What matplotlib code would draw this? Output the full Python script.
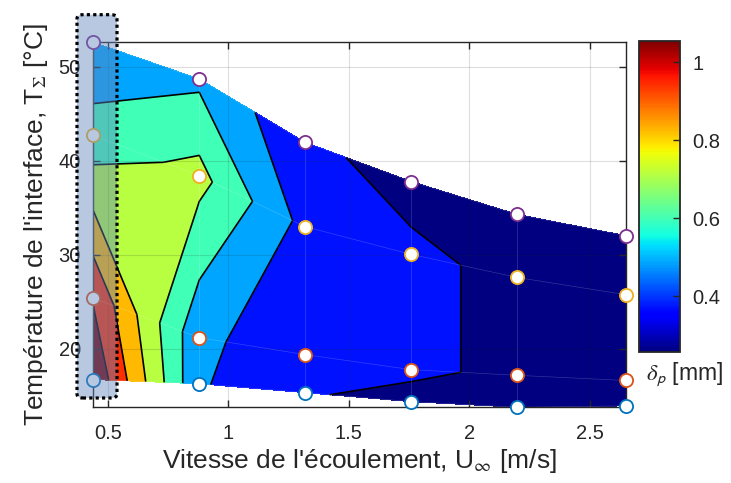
import numpy as np
import matplotlib
matplotlib.use("Agg")
import matplotlib.pyplot as plt
from matplotlib.patches import FancyBboxPatch
from matplotlib.colors import Normalize
from matplotlib.cm import ScalarMappable

# =========================
# DONNEES
# =========================

# vitesse de l'écoulement (une colonne par vitesse)
vitesse = [0.44, 0.88, 1.32, 1.76, 2.20, 2.65]

# température d'interface pour chaque série (ligne du maillage)
T_bleu = [16.75, 16.3, 15.35, 14.4, 13.8, 13.95]
T_orange = [25.4, 21.2, 19.4, 17.8, 17.2, 16.65]
T_jaune = [42.7, 38.4, 33.0, 30.05, 27.6, 25.77]
T_violet = [52.6, 48.7, 41.96, 37.8, 34.3, 32.05]

# épaisseur delta_p [mm] aux mêmes points
d_bleu = [1.15, 0.497, 0.385, 0.324, 0.30, 0.27]
d_orange = [1.045, 0.515, 0.396, 0.399, 0.339, 0.29]
d_jaune = [0.64, 0.75, 0.449, 0.4025, 0.335, 0.28]
d_violet = [0.52, 0.575, 0.404, 0.318, 0.29, 0.257]

# niveaux des isocontours et bornes de la barre de couleur
niveaux = [0.371, 0.485, 0.599, 0.713, 0.827, 0.941, 1.055]
clim = (0.257, 1.055)

ticks_x = [0.5, 1, 1.5, 2, 2.5]
ticks_y = [20, 30, 40, 50]
ticks_cb = [0.4, 0.6, 0.8, 1]

# =========================
# FIGURE
# =========================

plt.rcParams["font.family"] = ["Liberation Sans", "DejaVu Sans"]
plt.rcParams["mathtext.fontset"] = "stix"

gris = "#262626"

U = np.array([vitesse] * 4)
T = np.array([T_bleu, T_orange, T_jaune, T_violet])
D = np.array([d_bleu, d_orange, d_jaune, d_violet])

fig = plt.figure(figsize=(7.31, 4.83), dpi=100)
ax = fig.add_axes([93.3 / 731, 1 - 407.3 / 483, 532.4 / 731, 365 / 483])

norm = Normalize(*clim)
cmap = plt.get_cmap("jet")
couleurs = [cmap(norm(v)) for v in [clim[0]] + niveaux]
bornes = [-1] + niveaux + [5]

ax.contourf(U, T, D, levels=bornes, colors=couleurs, zorder=1)
ax.contour(U, T, D, levels=niveaux, colors="black", linewidths=1.2, zorder=2)

# maillage discret (très discret)
for i in range(T.shape[0]):
    ax.plot(U[i], T[i], color="white", lw=0.5, alpha=0.2, zorder=3)
for j in range(T.shape[1]):
    ax.plot(U[:, j], T[:, j], color="white", lw=0.5, alpha=0.2, zorder=3)

series = [
    (T_bleu, "#0072BD"),
    (T_orange, "#D95319"),
    (T_jaune, "#EDB120"),
    (T_violet, "#7E2F8E"),
]
for t, c in series:
    ax.plot(vitesse, t, "o", mfc="white", mec=c, ms=9.5, mew=1.3,
            clip_on=False, zorder=5)

ax.set_xlim(min(vitesse), max(vitesse))
ax.set_ylim(T.min(), T.max())
ax.set_xticks(ticks_x)
ax.set_xticklabels(["0.5", "1", "1.5", "2", "2.5"])
ax.set_yticks(ticks_y)

ax.set_axisbelow(False)
ax.grid(True, color=gris, alpha=0.15, lw=0.8)
ax.tick_params(direction="in", top=True, right=True, length=5, width=1,
               colors=gris, labelsize=14.5, pad=9)
ax.tick_params(axis="x", pad=12)
for s in ax.spines.values():
    s.set_color(gris)
    s.set_linewidth(1.0)

ax.set_xlabel(r"Vitesse de l'écoulement, U$_{\infty}$ [m/s]", fontsize=19,
              color=gris, labelpad=3)
ax.set_ylabel(r"Température de l'interface, T$_{\Sigma}$ [°C]", fontsize=19,
              color=gris, labelpad=6)

# barre de couleur
cax = fig.add_axes([639 / 731, 1 - 352 / 483, 41 / 731, 311 / 483])
cb = fig.colorbar(ScalarMappable(norm=norm, cmap=cmap), cax=cax)
cb.set_ticks(ticks_cb)
cb.set_ticklabels(["0.4", "0.6", "0.8", "1"])
cax.tick_params(direction="in", length=5, width=1, colors=gris,
                labelsize=14.5, pad=9)
cb.outline.set_edgecolor(gris)
cb.outline.set_linewidth(1.3)
fig.text(646 / 731, 1 - 381 / 483, r"$\delta_{\mathsf{p}}$ [mm]", fontsize=16.5,
         color=gris, ha="left", va="baseline")

# zone mise en évidence
zone = FancyBboxPatch((77 / 731, 1 - 398 / 483), 40 / 731, (398 - 14.7) / 483,
                      boxstyle="round,pad=0,rounding_size=0.008",
                      transform=fig.transFigure,
                      facecolor=(0.39, 0.52, 0.74, 0.45), edgecolor="black",
                      linestyle=(0, (1, 1)), lw=2.3, zorder=10)
fig.add_artist(zone)

fig.savefig("out.png", dpi=100)
